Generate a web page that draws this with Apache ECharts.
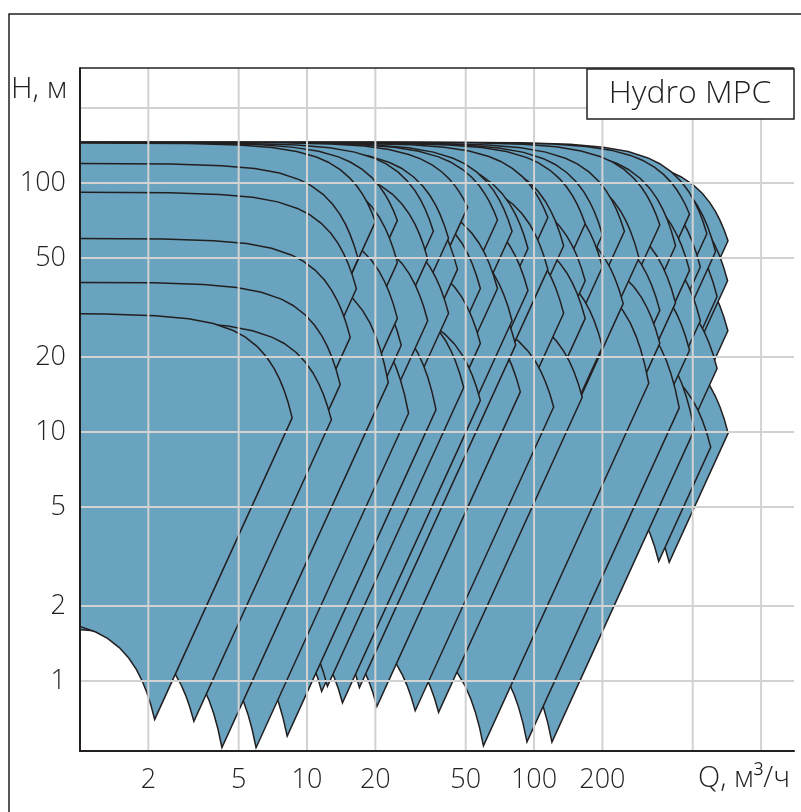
<!DOCTYPE html>
<html>
<head>
<meta charset="utf-8">
<script src="https://cdn.jsdelivr.net/npm/echarts@6/dist/echarts.min.js"></script>
<style>
  html, body { margin: 0; padding: 0; background: #ffffff; }
  #chart { width: 801px; height: 812px; }
</style>
</head>
<body>
<div id="chart"></div>
<script>
// Booster-set operating fields, one entry per set:
// flow and head at the end of the full-speed curve, shut-off head, and minimum speed ratio.
const setEndFlow = [715, 712, 714, 716, 640, 640, 630, 600, 577, 540, 540, 508, 484, 484, 484, 436,
  420, 420, 358, 358, 358, 320, 290, 250, 247, 200, 200, 200, 168, 168, 168, 163, 135, 135, 122,
  115, 115, 94, 94, 87, 83, 80, 80, 69, 69, 58, 58, 58, 51, 49, 46, 42, 42, 37, 36,
  34, 34, 28, 25, 25, 25, 26, 22.8, 20, 16.8, 16.5, 15.5, 14, 12.8, 8.6];
const setEndHead = [58.6, 40.5, 25.5, 9.9, 35, 18, 53, 8.7, 62.6, 46, 28, 10.2, 75, 44.6, 21.3, 12.5,
  56, 33, 68, 30.8, 22.7, 15.7, 50, 64, 32.8, 62, 46, 22, 68.6, 40.5, 28.6, 13.8, 56, 30, 12.6,
  72.7, 45, 54.6, 37, 14.5, 22.4, 64, 28, 71, 37.7, 37.7, 13.4, 22.7, 80, 15.1, 45, 60, 30, 12.3, 64,
  49.6, 28, 11.9, 70.8, 47.9, 28.6, 22.3, 15.8, 70, 49.6, 37.6, 24, 15.5, 11.2, 11.4];
const setShutHead = [128, 100, 63, 25, 88, 45, 132, 22, 146, 115, 70, 31, 146, 110, 53, 38,
  140, 82, 146, 76, 56, 48, 125, 145, 80, 145, 112, 55, 145, 98, 70, 34, 135, 75, 31,
  145, 110, 132, 90, 36, 55, 145, 70, 145, 92, 92, 33, 56, 146, 38, 112, 140, 74, 36, 145,
  120, 70, 36, 145, 118, 72, 56, 48, 145, 120, 92, 60, 40, 28, 30];
const setMinSpeed = [0.30, 0.30, 0.28, 0.55, 0.29, 0.26, 0.30, 0.59, 0.30, 0.30, 0.28, 0.236, 0.32, 0.30, 0.26, 0.2135,
  0.30, 0.28, 0.30, 0.27, 0.25, 0.187, 0.30, 0.30, 0.27, 0.30, 0.29, 0.25, 0.30, 0.28, 0.26, 0.233, 0.30, 0.27, 0.2456,
  0.30, 0.28, 0.29, 0.27, 0.2334, 0.205, 0.30, 0.26, 0.30, 0.27, 0.26, 0.247, 0.20, 0.30, 0.251, 0.29, 0.30, 0.27, 0.221, 0.30,
  0.29, 0.25, 0.213, 0.30, 0.28, 0.26, 0.24, 0.185, 0.30, 0.30, 0.28, 0.26, 0.26, 0.248, 0.248];

// Normalised QH curve: fraction of end flow, and head position between end head (0) and shut-off head (1)
const shapeFlow = [0.0002, 0.05, 0.15, 0.25, 0.35, 0.45, 0.55, 0.62, 0.70, 0.77, 0.83, 0.88, 0.92, 0.96, 1.0];
const shapeHead = [1, 0.999, 0.989, 0.964, 0.92, 0.853, 0.762, 0.683, 0.575, 0.466, 0.361, 0.264, 0.181, 0.093, 0];

// Axis ticks and grid lines (m³/h and m)
const flowLabels = [2, 5, 10, 20, 50, 100, 200];
const flowGrid = [2, 5, 10, 20, 50, 100, 200, 500, 1000];
const headLabels = [1, 2, 5, 10, 20, 50, 100];
const headGrid = [1, 2, 5, 10, 20, 50, 100, 200];

const lg = Math.log10;
const INK = '#231f20';
const FILL = '#69a3bf';
const FONT = "'Open Sans', 'Noto Sans', sans-serif";

// Larger sets first, smaller ones painted over them
const drawOrder = setEndFlow.map((_, i) => i)
  .sort((a, b) => (setEndFlow[b] - setEndFlow[a]) || (setEndHead[b] - setEndHead[a]));

// Field between the full-speed curve and the curve at minimum speed (affinity: Q·n, H·n²)
function renderField(params, api) {
  const i = api.value(0);
  const qe = setEndFlow[i], he = setEndHead[i], h0 = setShutHead[i], n = setMinSpeed[i];
  const upper = [], lower = [];
  for (let k = 0; k < shapeFlow.length; k++) {
    const q = shapeFlow[k] * qe;
    const h = he + (h0 - he) * shapeHead[k];
    upper.push(api.coord([lg(q), lg(h)]));
    lower.push(api.coord([lg(q * n), lg(h * n * n)]));
  }
  return {
    type: 'polygon',
    shape: { points: upper.concat(lower.reverse()) },
    style: { fill: FILL, stroke: INK, lineWidth: 1.5, lineJoin: 'miter', miterLimit: 20 }
  };
}

function renderGridLine(params, api) {
  const kind = api.value(0), v = api.value(1);
  const cs = params.coordSys;
  let shape;
  if (kind === 0) {
    const x = api.coord([v, 0])[0];
    shape = { x1: x, y1: cs.y, x2: x, y2: cs.y + cs.height };
  } else {
    const y = api.coord([0, v])[1];
    shape = { x1: cs.x, y1: y, x2: cs.x + cs.width, y2: y };
  }
  return { type: 'line', shape, style: { stroke: '#d2d2d2', lineWidth: 2 } };
}

const gridData = flowGrid.map(q => [0, lg(q)]).concat(headGrid.map(h => [1, lg(h)]));

const chart = echarts.init(document.getElementById('chart'), null, { renderer: 'canvas' });
chart.setOption({
  animation: false,
  backgroundColor: '#ffffff',
  grid: { left: 80, top: 68, right: 7, bottom: 61, show: false },
  xAxis: {
    type: 'value', min: 0, max: 3.145, z: 10,
    axisLine: { show: true, onZero: false, lineStyle: { color: INK, width: 2 } },
    axisTick: { show: false },
    splitLine: { show: false },
    axisLabel: {
      customValues: flowLabels.map(lg),
      formatter: v => String(Math.round(Math.pow(10, v))),
      color: INK, fontFamily: FONT, fontWeight: 300, fontSize: 27, margin: 16
    }
  },
  yAxis: {
    type: 'value', min: -0.281, max: 2.462, z: 10,
    axisLine: { show: true, onZero: false, lineStyle: { color: INK, width: 2 } },
    axisTick: { show: false },
    splitLine: { show: false },
    axisLabel: {
      customValues: headLabels.map(lg),
      formatter: v => String(Math.round(Math.pow(10, v))),
      color: INK, fontFamily: FONT, fontWeight: 300, fontSize: 27, margin: 14
    }
  },
  graphic: [
    { type: 'rect', z: 1, shape: { x: 9, y: 14, width: 820, height: 820 },
      style: { fill: null, stroke: INK, lineWidth: 1.5 } },
    { type: 'line', z: 100, shape: { x1: 80, y1: 68, x2: 794, y2: 68 },
      style: { stroke: INK, lineWidth: 1.5 } },
    { type: 'rect', z: 100, shape: { x: 587, y: 69, width: 207, height: 50 },
      style: { fill: '#ffffff', stroke: INK, lineWidth: 1.5 } },
    { type: 'text', z: 101, x: 690, y: 94,
      style: { text: 'Hydro MPC', fill: INK, font: "300 32px 'Open Sans', sans-serif", align: 'center', verticalAlign: 'middle' } },
    { type: 'text', z: 101, x: 11, y: 89,
      style: { text: 'H, м', fill: INK, font: "300 30px 'Open Sans', sans-serif", align: 'left', verticalAlign: 'middle' } },
    { type: 'text', z: 101, x: 790, y: 779,
      style: { text: 'Q, м³/ч', fill: INK, font: "300 29px 'Open Sans', sans-serif", align: 'right', verticalAlign: 'middle' } }
  ],
  series: [
    {
      type: 'custom', name: 'fields', z: 2, clip: true,
      renderItem: renderField,
      data: drawOrder.map(i => [i])
    },
    {
      type: 'custom', name: 'grid', z: 5, clip: true, silent: true,
      renderItem: renderGridLine,
      data: gridData
    }
  ]
});
</script>
</body>
</html>
